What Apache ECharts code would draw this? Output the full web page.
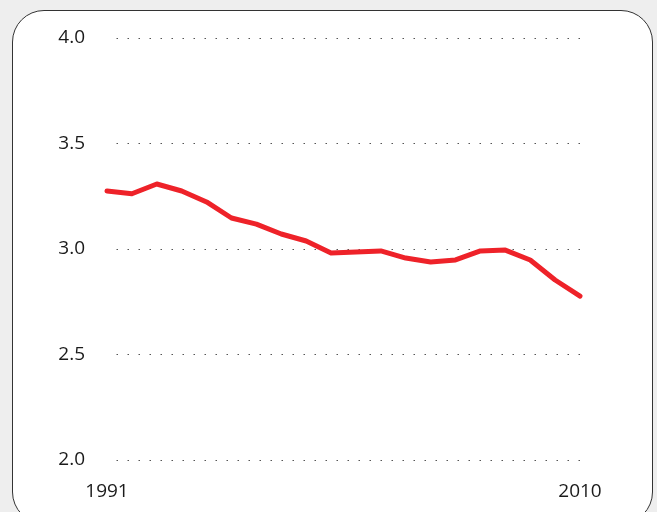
<!DOCTYPE html>
<html>
<head>
<meta charset="utf-8">
<script src="https://cdn.jsdelivr.net/npm/echarts@6/dist/echarts.min.js"></script>
<style>
  html, body { margin: 0; padding: 0; background: #eeeeee; overflow: hidden; }
  .frame {
    position: absolute; left: 12px; top: 10px; width: 639px; height: 512px;
    background: #fff; border: 1.5px solid #333; border-radius: 32px;
  }
  .diagram { position: absolute; left: 0; top: 0; width: 657px; height: 512px; }
</style>
</head>
<body>
<div class="frame"></div>
<div class="diagram"></div>
<script>
var years  = [1991, 1992, 1993, 1994, 1995, 1996, 1997, 1998, 1999, 2000,
              2001, 2002, 2003, 2004, 2005, 2006, 2007, 2008, 2009, 2010];
var values = [3.275, 3.262, 3.308, 3.275, 3.223, 3.147, 3.118, 3.071, 3.038, 2.981,
              2.986, 2.991, 2.957, 2.938, 2.948, 2.991, 2.995, 2.948, 2.853, 2.777];
var yTicks = [2.0, 2.5, 3.0, 3.5, 4.0];

var chart = echarts.init(document.querySelector('.diagram'));

var fontFamily = '"Open Sans", "DejaVu Sans", sans-serif';

var option = {
  backgroundColor: 'transparent',
  animation: false,
  grid: { left: 107, right: 77, top: 38, bottom: 52 },
  xAxis: {
    type: 'value',
    min: years[0],
    max: years[years.length - 1],
    interval: years[years.length - 1] - years[0],
    axisLine: { show: false },
    axisTick: { show: false },
    splitLine: { show: false },
    axisLabel: {
      margin: 22,
      color: '#1a1a1a',
      fontSize: 19,
      fontFamily: fontFamily,
      formatter: function(v) { return String(v); }
    }
  },
  yAxis: {
    type: 'value',
    min: yTicks[0],
    max: yTicks[yTicks.length - 1],
    interval: 0.5,
    axisLine: { show: false },
    axisTick: { show: false },
    axisLabel: {
      margin: 22,
      color: '#1a1a1a',
      fontSize: 19,
      fontFamily: fontFamily,
      formatter: function(v) { return v.toFixed(1); }
    },
    splitLine: {
      lineStyle: { color: '#555', width: 1, type: [1.5, 9.5], dashOffset: 1.5 }
    }
  },
  series: [
    {
      type: 'line',
      data: years.map(function(y, i) { return [y, values[i]]; }),
      symbol: 'none',
      lineStyle: { color: '#ee2229', width: 5, cap: 'round', join: 'round' }
    }
  ]
};

chart.setOption(option);
</script>
</body>
</html>
